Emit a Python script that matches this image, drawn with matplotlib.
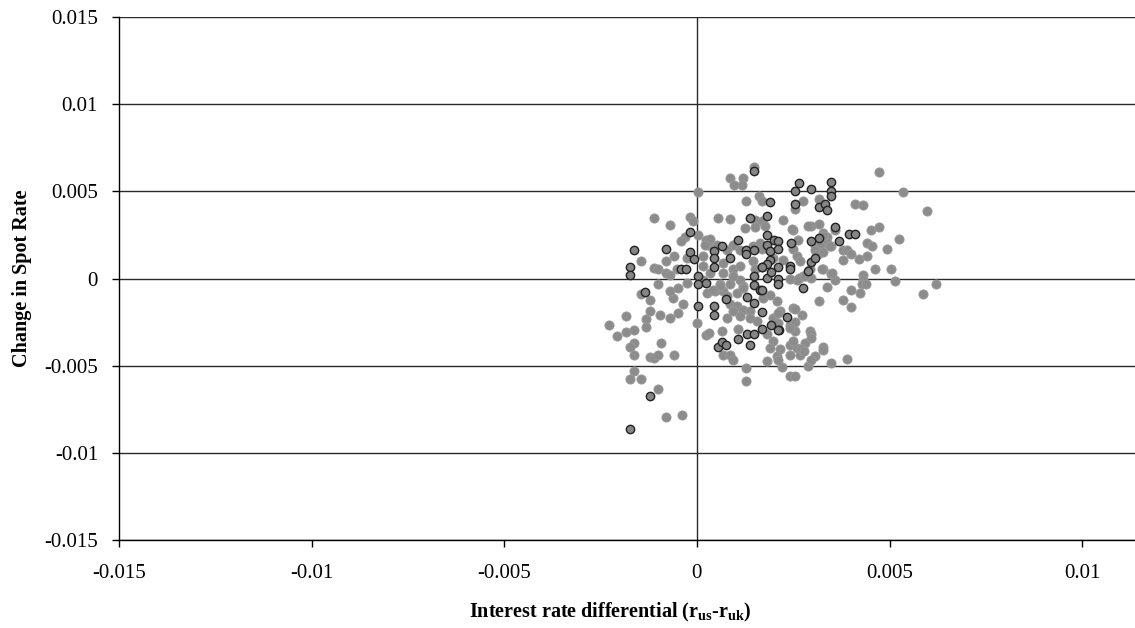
import numpy as np
import matplotlib
matplotlib.use('Agg')
import matplotlib.pyplot as plt

plt.rcParams['font.family'] = ['Liberation Serif', 'DejaVu Serif']
plt.rcParams['mathtext.fontset'] = 'custom'
plt.rcParams['mathtext.rm'] = 'Liberation Serif'
plt.rcParams['mathtext.bf'] = 'Liberation Serif:bold'

# values, in units of 0.001
# plain grey points
grey_x = [1.49, 0.86, 1.19, 0.96, 1.17, 0.03, 1.60, 1.69, 1.27, -1.12, -0.70, -0.18, -0.10, 0.55, 0.86,
          0.03, -0.31, -0.40, 0.23, 0.29, -1.44, -0.81, -0.60, -0.27, -1.12, -1.00, -0.81, -0.70, -0.52, -1.44,
          4.73, 5.36, 5.98, 2.54, 2.75, 3.16, 4.10, 4.32, 2.23, 2.49, 2.95, 3.16, 3.58, 4.52, 4.73,
          5.25, 4.93, 4.42, 4.54, 3.28, 3.37, 3.48, 3.78, 3.90, 3.99, 3.78, 4.21, 4.41, 4.62, 5.04,
          4.32, 4.32, 4.28, 4.40, 5.14, 6.20, 5.88, 3.99, 4.23, 3.37, 3.48, 3.58, 3.27, 2.75, 2.66,
          2.95, 3.15, 3.06, 2.63, 2.49,
          1.50, 1.68, 1.25, 1.50, 1.76, 2.46, 2.89, 0.34, 0.51, 0.21, 0.94, 0.77, 1.12, 1.46, 1.64,
          1.68, 0.16, 0.16, 0.68, 0.94, 1.12, 1.46, 1.50, 1.98, 2.24, 2.59, 2.67, 2.59, 2.80, 2.41,
          1.12, 0.94, 0.68, 0.34, 0.16, 0.60, 0.86, 1.20,
          3.28, 3.37, 3.45, 3.19, 3.06, 3.15, 3.28, 2.93, 3.24, 3.50,
          0.01, 0.23, 0.32, 0.67, 0.86, 0.94, 1.07, 0.64, 1.27, 1.27, 1.81, 2.22, 2.41, 2.54, 2.89,
          0.47, 0.68, 1.03, 1.20, 0.86, 1.03, 1.20, 1.38, 1.12, 1.38, 0.77, 0.94, 1.55, 1.72, 1.89,
          2.07, 2.15, 1.98, 1.81, 1.98, 1.89, 2.15, 2.07, 2.41, 2.59, 2.67, 2.50, 2.41, 2.54, 2.93,
          2.80,
          3.17, 3.78, 3.99, 2.74, 2.95, 2.95, 2.71, 2.77, 3.26, 3.26, 3.06, 2.95, 3.47, 3.89,
          2.54, 2.54, 2.41, 2.11, 2.11, 2.50, 2.41, 2.11,
          -2.28, -2.07, -1.84, -1.64, -1.84, -1.22, -1.22, -1.32, -1.32, -1.64, -1.74, -1.64, -1.22, -1.12, -1.00,
          -0.92, -0.60, -1.64, -1.74, -1.44, -1.02, -0.81, -0.39,
          -0.96, -0.70, -0.49, -0.36, -0.61, -0.49, -0.70, -1.00, -0.27, 0.25, 0.42, 0.77, 0.60]
grey_y = [6.37, 5.78, 5.74, 5.35, 5.35, 4.95, 4.72, 4.43, 4.42, 3.48, 3.06, 3.54, 3.31, 3.50, 3.43,
          2.48, 2.39, 2.14, 2.20, 1.95, 1.03, 1.03, 1.32, 1.19, 0.61, 0.52, 0.33, 0.23, 0.55, -0.86,
          6.12, 4.95, 3.86, 4.00, 4.43, 4.57, 4.29, 4.19, 3.33, 2.81, 3.00, 3.10, 2.79, 2.81, 2.94,
          2.24, 1.72, 2.05, 1.85, 2.62, 2.39, 1.89, 1.66, 1.61, 1.38, 1.09, 1.13, 1.32, 0.52, 0.56,
          0.23, -0.06, -0.30, -0.34, -0.15, -0.30, -0.86, -0.63, -0.82, -0.50, 0.27, -0.06, 0.52, 0.13, 0.04,
          0.04, 1.47, 1.85, 2.20, 1.70,
          3.38, 3.29, 2.91, 2.97, 3.00, 2.85, 3.04, 2.24, 1.95, 1.95, 1.95, 1.66, 1.66, 1.85, 2.05,
          1.70, 1.28, 0.71, 0.90, 0.52, 0.71, 0.99, 0.52, 1.19, 1.09, 1.28, 0.99, -0.06, 0.13, -0.02,
          -0.06, 0.13, 0.33, 0.33, -0.06, -0.34, -0.34, -0.44,
          2.43, 2.05, 1.85, 1.85, 1.66, 1.38, 1.51, 0.52, 0.52, 0.33,
          -2.58, -3.25, -3.12, -4.36, -4.36, -4.65, -2.87, -3.02, -5.12, -5.89, -4.74, -5.09, -5.61, -5.61, -5.03,
          -0.73, -0.73, -0.82, -0.53, -1.49, -1.59, -1.78, -1.88, -2.16, -2.25, -2.25, -1.88, -2.45, -1.11, -0.92,
          -1.30, -1.88, -2.25, -3.21, -3.60, -3.98, -4.07, -4.46, -3.79, -3.98, -4.36, -1.68, -2.64, -3.02, -3.02,
          -3.69,
          -1.30, -1.24, -1.65, -2.10, -3.17, -3.40, -4.07, -4.13, -3.92, -4.11, -4.46, -4.65, -4.84, -4.61,
          -1.72, -2.51, -2.83, -1.97, -2.54, -3.60, -4.36, -4.65,
          -2.68, -3.27, -3.08, -2.93, -2.16, -1.24, -1.88, -2.31, -2.77, -3.69, -3.94, -4.36, -4.52, -4.55, -4.36,
          -3.69, -4.36, -5.28, -5.74, -5.74, -6.33, -7.96, -7.84,
          -2.07, -2.25, -1.97, -1.49, -1.11, -0.53, -0.73, -0.34, -0.25, -0.82, -0.63, -1.02, -0.44]

# points drawn with a dark outline
edged_x = [1.49, 1.90, 1.38, 1.81, -0.18, -1.64, -0.81, -0.18, -0.08, -1.74, -1.74, -0.40, -0.29, 0.03, 0.03,
           0.23, 0.45, 0.45, 0.45, 0.66, 0.87, 1.07, 1.27, 1.27, 1.49, 1.49, 1.49, 1.81, 1.81, 1.90,
           1.90, 1.70, 1.81, 2.01, 2.11, -1.34,
           2.64, 2.54, 2.95, 3.47, 3.47, 3.47, 2.54, 3.16, 3.32, 3.38, 3.58, 3.95, 4.10, 3.69, 3.16,
           2.95, 2.95, 3.06, 2.11, 2.43, 2.11, 2.11, 2.11, 1.91, 1.64, 2.41, 2.41, 2.75,
           1.83, 1.68, 2.89,
           0.03, 0.44, 0.44, 0.75, 1.29, 1.49, 1.70, 1.70, 1.91, 1.70, 2.13, 2.33, 1.07, 1.29, 1.49,
           1.38, 0.55, 0.66, 0.75, 2.11,
           -1.22, -1.74]
edged_y = [6.16, 4.38, 3.46, 3.61, 2.66, 1.62, 1.70, 1.51, 1.13, 0.67, 0.21, 0.52, 0.52, 0.13, -0.29,
           -0.25, 1.57, 1.19, 0.67, 1.85, 1.19, 2.20, 1.66, 1.42, 1.66, 0.17, -0.40, 2.47, 1.95, 1.55,
           1.09, 0.67, 0.04, 2.20, 2.18, -0.79,
           5.47, 5.03, 5.11, 5.55, 5.03, 4.72, 4.30, 4.11, 4.25, 3.92, 2.97, 2.56, 2.56, 2.14, 2.34,
           2.14, 0.94, 1.19, 1.70, 2.05, 0.67, 0.00, -0.34, 0.38, -0.63, 0.71, 0.52, -0.53,
           0.86, 0.65, 0.42,
           -1.55, -1.55, -2.07, -1.20, -1.05, -1.43, -0.67, -1.91, -2.68, -2.87, -2.96, -2.20, -3.46, -3.17, -3.17,
           -3.79, -3.92, -3.63, -3.79, -2.98,
           -6.75, -8.66]

x_ticks = [-0.015, -0.01, -0.005, 0, 0.005, 0.01]
y_ticks = [-0.015, -0.01, -0.005, 0, 0.005, 0.01, 0.015]
x_tick_labels = ['-0.015', '-0.01', '-0.005', '0', '0.005', '0.01']
y_tick_labels = ['-0.015', '-0.01', '-0.005', '0', '0.005', '0.01', '0.015']

fig = plt.figure(figsize=(11.35, 6.28), dpi=100)
ax = fig.add_axes([0.1048, 0.1401, 0.8952, 0.8328])

# 网格线和零轴
for yv in y_ticks:
    ax.axhline(yv, color='#2a2a2a', lw=1.0, zorder=1)
ax.axvline(0, color='#2a2a2a', lw=1.0, zorder=1)

gx = np.array(grey_x) / 1000
gy = np.array(grey_y) / 1000
ex = np.array(edged_x) / 1000
ey = np.array(edged_y) / 1000

ax.scatter(gx, gy, s=44, color='#8c8c8c', edgecolors='#9a9a9a', linewidths=0.6, zorder=3)
ax.scatter(ex, ey, s=36, color='#858585', edgecolors='#222222', linewidths=1.0, zorder=4)

ax.set_xlim(-0.015, 0.01137)
ax.set_ylim(-0.015, 0.015)
ax.set_xticks(x_ticks)
ax.set_xticklabels(x_tick_labels)
ax.set_yticks(y_ticks)
ax.set_yticklabels(y_tick_labels)
ax.tick_params(axis='both', direction='out', length=5, width=1.0, color='black', labelsize=15)
ax.tick_params(axis='x', pad=12)
ax.tick_params(axis='y', pad=10)

for side in ['top', 'right']:
    ax.spines[side].set_visible(False)
for side in ['left', 'bottom']:
    ax.spines[side].set_color('black')
    ax.spines[side].set_linewidth(1.0)

ax.set_ylabel('Change in Spot Rate', fontsize=14.5, fontweight='bold')
ax.yaxis.set_label_coords(-0.0855, 0.5)
ax.set_xlabel(r'Interest rate differential (r$_{\mathbf{us}}$-r$_{\mathbf{uk}}$)',
              fontsize=14.5, fontweight='bold')
ax.xaxis.set_label_coords(0.483, -0.117)

fig.savefig('out.png', dpi=100)
